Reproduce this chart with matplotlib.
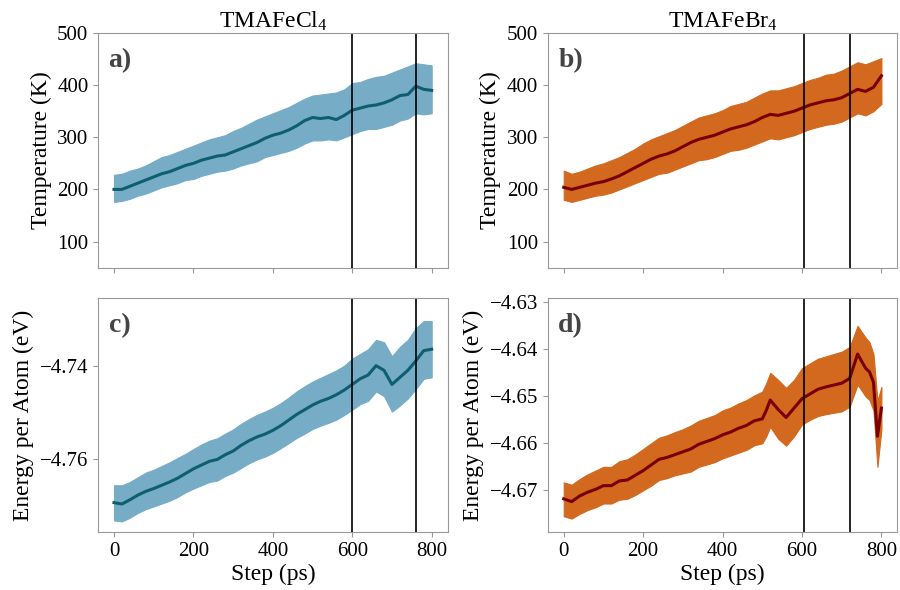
import matplotlib
matplotlib.use("Agg")
from matplotlib import pyplot as plt

plt.rcParams['font.family'] = ['Liberation Serif', 'DejaVu Serif']
plt.rcParams['mathtext.fontset'] = 'custom'
plt.rcParams['mathtext.rm'] = 'Liberation Serif'
plt.rcParams['mathtext.it'] = 'Liberation Serif:italic'

# step grid (ps), every 20 ps
steps = [0, 20, 40, 60, 80, 100, 120, 140, 160, 180, 200, 220, 240, 260, 280,
         300, 320, 340, 360, 380, 400, 420, 440, 460, 480, 500, 520, 540, 560,
         580, 600, 620, 640, 660, 680, 700, 720, 740, 760, 780, 800]

# TMAFeCl4 temperature: running mean, upper / lower edge of the raw band
temp_cl = [200, 200, 206, 212, 218, 224, 230, 234, 240, 246, 250, 256, 260, 264,
           266, 272, 278, 284, 290, 298, 304, 308, 314, 322, 332, 338, 336, 338,
           334, 342, 352, 356, 360, 362, 366, 372, 380, 382, 398, 392, 390]
temp_cl_hi = [228, 230, 236, 240, 246, 254, 262, 266, 272, 278, 284, 290, 296,
              300, 304, 312, 318, 326, 334, 340, 346, 352, 358, 366, 374, 380,
              382, 384, 386, 392, 404, 406, 412, 416, 418, 424, 430, 436, 442,
              440, 438]
temp_cl_lo = [176, 178, 182, 188, 192, 198, 204, 208, 212, 218, 220, 226, 230,
              234, 236, 240, 246, 250, 254, 262, 266, 270, 274, 280, 288, 294,
              294, 296, 294, 300, 306, 312, 316, 316, 320, 324, 332, 336, 346,
              344, 346]

# TMAFeBr4 temperature
temp_br = [204, 200, 204, 208, 212, 215, 220, 226, 234, 242, 250, 258, 264, 268,
           274, 282, 290, 296, 300, 304, 310, 316, 320, 324, 330, 338, 344, 342,
           346, 350, 356, 362, 366, 370, 372, 376, 384, 392, 388, 396, 418]
temp_br_hi = [236, 230, 234, 240, 246, 250, 256, 262, 270, 278, 288, 296, 302,
              308, 314, 322, 330, 338, 342, 346, 352, 360, 364, 368, 376, 384,
              390, 390, 394, 398, 404, 410, 414, 420, 422, 428, 436, 444, 440,
              446, 452]
temp_br_lo = [180, 176, 180, 184, 188, 190, 194, 200, 206, 212, 218, 224, 230,
              232, 238, 244, 250, 256, 258, 262, 268, 274, 276, 280, 286, 292,
              298, 296, 300, 304, 310, 316, 320, 324, 326, 330, 338, 346, 342,
              350, 364]

# TMAFeCl4 energy per atom (eV)
en_cl = [-4.7692, -4.7695, -4.7686, -4.7676, -4.7668, -4.7662, -4.7655, -4.7648,
         -4.7640, -4.7630, -4.7620, -4.7612, -4.7604, -4.7600, -4.7590, -4.7582,
         -4.7570, -4.7560, -4.7552, -4.7546, -4.7538, -4.7528, -4.7516, -4.7504,
         -4.7494, -4.7484, -4.7476, -4.7470, -4.7462, -4.7452, -4.7440, -4.7428,
         -4.7420, -4.7400, -4.7410, -4.7440, -4.7425, -4.7410, -4.7390, -4.7368,
         -4.7365]
en_cl_hi = [-4.7655, -4.7655, -4.7648, -4.7638, -4.7628, -4.7622, -4.7614,
            -4.7606, -4.7597, -4.7588, -4.7578, -4.7568, -4.7560, -4.7555,
            -4.7545, -4.7536, -4.7524, -4.7514, -4.7505, -4.7498, -4.7490,
            -4.7480, -4.7468, -4.7455, -4.7444, -4.7434, -4.7426, -4.7418,
            -4.7410, -4.7400, -4.7385, -4.7375, -4.7365, -4.7345, -4.7350,
            -4.7380, -4.7360, -4.7345, -4.7320, -4.7305, -4.7305]
en_cl_lo = [-4.7730, -4.7732, -4.7724, -4.7714, -4.7706, -4.7700, -4.7694,
            -4.7688, -4.7680, -4.7670, -4.7662, -4.7655, -4.7648, -4.7645,
            -4.7635, -4.7628, -4.7618, -4.7608, -4.7600, -4.7594, -4.7586,
            -4.7576, -4.7565, -4.7554, -4.7545, -4.7535, -4.7528, -4.7522,
            -4.7515, -4.7505, -4.7494, -4.7482, -4.7475, -4.7455, -4.7465,
            -4.7498, -4.7485, -4.7470, -4.7450, -4.7428, -4.7425]

# TMAFeBr4 energy per atom has its own grid (sharp drop near the end)
steps_en_br = [0, 20, 40, 60, 80, 100, 120, 140, 160, 180, 200, 220, 240, 260,
               280, 300, 320, 340, 360, 380, 400, 420, 440, 460, 480, 500, 510,
               520, 540, 560, 580, 600, 620, 640, 660, 680, 700, 720, 740, 760,
               770, 780, 790, 800]
en_br = [-4.6718, -4.6724, -4.6712, -4.6704, -4.6698, -4.6690, -4.6690, -4.6680,
         -4.6678, -4.6668, -4.6658, -4.6646, -4.6634, -4.6630, -4.6624, -4.6618,
         -4.6612, -4.6602, -4.6596, -4.6590, -4.6582, -4.6576, -4.6568, -4.6562,
         -4.6552, -4.6548, -4.6530, -4.6508, -4.6528, -4.6545, -4.6525, -4.6505,
         -4.6495, -4.6485, -4.6480, -4.6476, -4.6472, -4.6462, -4.6410, -4.6440,
         -4.6448, -4.6470, -4.6585, -4.6525]
en_br_hi = [-4.6683, -4.6688, -4.6676, -4.6666, -4.6658, -4.6650, -4.6650,
            -4.6638, -4.6634, -4.6624, -4.6612, -4.6600, -4.6588, -4.6583,
            -4.6576, -4.6570, -4.6562, -4.6552, -4.6546, -4.6540, -4.6530,
            -4.6524, -4.6515, -4.6508, -4.6498, -4.6490, -4.6472, -4.6450,
            -4.6465, -4.6482, -4.6465, -4.6440, -4.6430, -4.6420, -4.6415,
            -4.6410, -4.6405, -4.6395, -4.6350, -4.6375, -4.6385, -4.6410,
            -4.6510, -4.6480]
en_br_lo = [-4.6755, -4.6760, -4.6750, -4.6742, -4.6736, -4.6728, -4.6728,
            -4.6720, -4.6718, -4.6710, -4.6700, -4.6690, -4.6678, -4.6674,
            -4.6668, -4.6664, -4.6660, -4.6650, -4.6645, -4.6640, -4.6632,
            -4.6626, -4.6620, -4.6614, -4.6604, -4.6600, -4.6585, -4.6565,
            -4.6590, -4.6605, -4.6585, -4.6560, -4.6550, -4.6542, -4.6538,
            -4.6535, -4.6532, -4.6522, -4.6475, -4.6500, -4.6508, -4.6530,
            -4.6650, -4.6570]

# phase transition markers (ps)
vlines_cl = [600, 760]
vlines_br = [605, 720]

fig, axes = plt.subplots(2, 2, figsize=(9, 5.9), dpi=100, sharex='col')
fig.subplots_adjust(left=0.109, right=0.997, top=0.944, bottom=0.098,
                    wspace=0.287, hspace=0.128)

blue_band, blue_line = '#76acc6', '#0e5f6d'
orange_band, orange_line = '#d2691e', '#780000'

panels = [
    (axes[0, 0], steps, temp_cl, temp_cl_lo, temp_cl_hi, blue_band, blue_line, vlines_cl, 'a)'),
    (axes[0, 1], steps, temp_br, temp_br_lo, temp_br_hi, orange_band, orange_line, vlines_br, 'b)'),
    (axes[1, 0], steps, en_cl, en_cl_lo, en_cl_hi, blue_band, blue_line, vlines_cl, 'c)'),
    (axes[1, 1], steps_en_br, en_br, en_br_lo, en_br_hi, orange_band, orange_line, vlines_br, 'd)'),
]

for ax, x, y, lo, hi, cband, cline, vl, tag in panels:
    ax.fill_between(x, lo, hi, color=cband, lw=0.8, edgecolor=cband)
    ax.plot(x, y, color=cline, lw=2.2)
    for v in vl:
        ax.axvline(v, color='black', lw=1.2)
    ax.text(0.03, 0.935, tag, transform=ax.transAxes, fontsize=20,
            fontweight='bold', color='#444444', va='top', ha='left')
    for s in ax.spines.values():
        s.set_color('#999999')
    ax.tick_params(colors='#999999', labelcolor='black', labelsize=15)
    ax.set_xlim(-40, 840)

axes[0, 0].set_ylim(50, 500)
axes[0, 1].set_ylim(50, 500)
axes[1, 0].set_ylim(-4.7755, -4.7255)
axes[1, 1].set_ylim(-4.6789, -4.629)

axes[0, 0].set_yticks([100, 200, 300, 400, 500])
axes[0, 1].set_yticks([100, 200, 300, 400, 500])
axes[1, 0].set_yticks([-4.76, -4.74])
axes[1, 1].set_yticks([-4.67, -4.66, -4.65, -4.64, -4.63])
for ax in axes[1]:
    ax.set_xticks([0, 200, 400, 600, 800])

axes[0, 0].set_title('TMAFeCl$_4$', fontsize=17, pad=4)
axes[0, 1].set_title('TMAFeBr$_4$', fontsize=17, pad=4)
axes[0, 0].set_ylabel('Temperature (K)', fontsize=17)
axes[0, 1].set_ylabel('Temperature (K)', fontsize=17)
axes[1, 0].set_ylabel('Energy per Atom (eV)', fontsize=17)
axes[1, 1].set_ylabel('Energy per Atom (eV)', fontsize=17)
axes[1, 0].set_xlabel('Step (ps)', fontsize=17, labelpad=2)
axes[1, 1].set_xlabel('Step (ps)', fontsize=17, labelpad=2)

fig.savefig('out.png', dpi=100)
